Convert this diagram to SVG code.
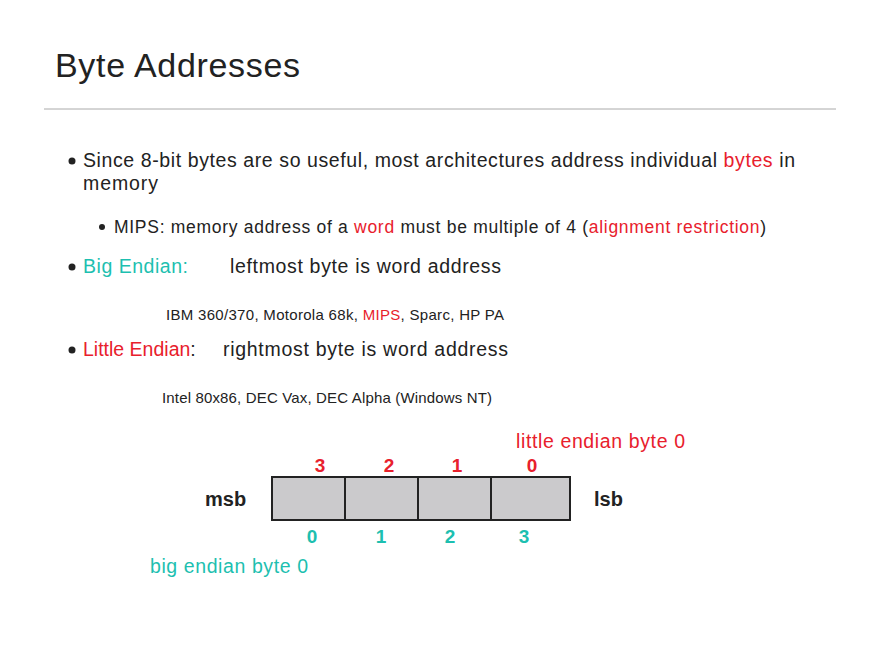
<svg xmlns="http://www.w3.org/2000/svg" width="880" height="660" viewBox="0 0 880 660">
<style>
text{font-family:"Liberation Sans",Arial,sans-serif;fill:#222}
.r{fill:#e8202c}.t{fill:#1dbfb0}
.b{font-weight:bold}
.cell{fill:#cbcacc;stroke:#222;stroke-width:2}
</style>
<rect width="880" height="660" fill="#fff"/>
<text x="55" y="77" font-size="34" textLength="245">Byte Addresses</text>
<line x1="44" y1="109" x2="836" y2="109" stroke="#aaa" stroke-width="1"/>
<g id="bullets">
<circle cx="72" cy="161" r="3.5" fill="#222"/>
<text x="83" y="167" font-size="19.5" textLength="712">Since 8-bit bytes are so useful, most architectures address individual <tspan class="r">bytes</tspan> in</text>
<text x="83" y="190" font-size="19.5" textLength="75">memory</text>
<circle cx="102" cy="227" r="3" fill="#222"/>
<text x="114" y="233" font-size="17.5" textLength="652">MIPS: memory address of a <tspan class="r">word</tspan> must be multiple of 4 (<tspan class="r">alignment restriction</tspan>)</text>
<circle cx="72" cy="267" r="3.5" fill="#222"/>
<text x="83" y="273" font-size="19.5" class="t" textLength="105">Big Endian:</text>
<text x="230" y="273" font-size="19.5" textLength="271">leftmost byte is word address</text>
<text x="166" y="320" font-size="15" textLength="338">IBM 360/370, Motorola 68k, <tspan class="r">MIPS</tspan>, Sparc, HP PA</text>
<circle cx="72" cy="350" r="3.5" fill="#222"/>
<text x="83" y="356" font-size="19.5"><tspan class="r">Little Endian</tspan>:</text>
<text x="223" y="356" font-size="19.5" textLength="285">rightmost byte is word address</text>
<text x="162" y="403" font-size="15" textLength="330">Intel 80x86, DEC Vax, DEC Alpha (Windows NT)</text>
</g>
<g id="word">
<rect class="cell" x="272" y="477" width="73" height="43"/>
<rect class="cell" x="345" y="477" width="73" height="43"/>
<rect class="cell" x="418" y="477" width="73" height="43"/>
<rect class="cell" x="491" y="477" width="79" height="43"/>
<text x="205" y="506" font-size="20" class="b">msb</text>
<text x="594" y="506" font-size="20" class="b">lsb</text>
<g font-size="19" class="b" text-anchor="middle">
<text x="320" y="472" class="r b">3</text><text x="389" y="472" class="r b">2</text><text x="457" y="472" class="r b">1</text><text x="532" y="472" class="r b">0</text>
<text x="312" y="543" class="t b">0</text><text x="381" y="543" class="t b">1</text><text x="450" y="543" class="t b">2</text><text x="524" y="543" class="t b">3</text>
</g>
<text x="516" y="448" font-size="19.5" class="r" textLength="169">little endian byte 0</text>
<text x="150" y="573" font-size="19.5" class="t" textLength="158">big endian byte 0</text>
</g>
</svg>
